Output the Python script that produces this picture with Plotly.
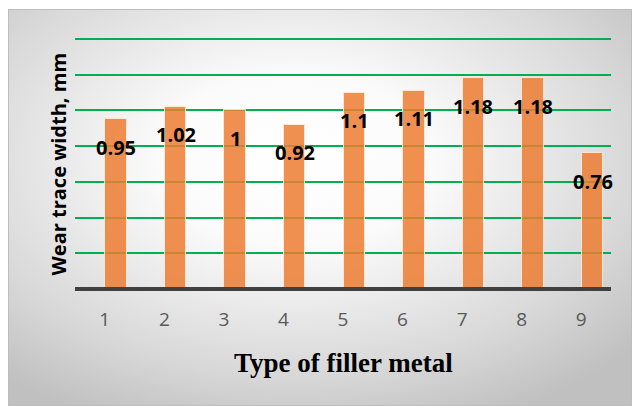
import base64
import plotly.graph_objects as go

# Wear trace width per filler metal type
filler_types = [1, 2, 3, 4, 5, 6, 7, 8, 9]
tick_labels = ["1", "2", "3", "4", "5", "6", "7", "8", "9"]
wear_width = [0.95, 1.02, 1.00, 0.92, 1.10, 1.11, 1.18, 1.18, 0.76]

W, H = 632, 406
L, R, T, B = 75, 21, 34, 117
plot_w = W - L - R
plot_h = H - T - B
Y_MAX = 1.428  # a little headroom so the 1.4 gridline is kept

BAR_W = 0.36
BAR_OFF = 0.01


def px_to_paper_x(px):
    return (px - L) / plot_w


def px_to_paper_y(py):
    return (H - B - py) / plot_h


# Radial grey-to-white backdrop for the chart frame
svg = """<svg xmlns='http://www.w3.org/2000/svg' width='624' height='397' viewBox='0 0 624 397' preserveAspectRatio='none'>
<defs><radialGradient id='g' cx='0.46' cy='0.38' r='0.72' fx='0.46' fy='0.38'>
<stop offset='0' stop-color='#ffffff'/>
<stop offset='0.30' stop-color='#fbfbfb'/>
<stop offset='0.75' stop-color='#d8d8d8'/>
<stop offset='1' stop-color='#c0c0c0'/>
</radialGradient></defs>
<rect x='0' y='0' width='624' height='397' fill='url(#g)'/>
<rect x='0.5' y='0.5' width='623' height='396' fill='none' stroke='#bdbdbd' stroke-width='1'/>
</svg>"""
bg_uri = "data:image/svg+xml;base64," + base64.b64encode(svg.encode()).decode()

fig = go.Figure()
fig.add_trace(go.Bar(
    x=filler_types,
    y=wear_width,
    width=BAR_W,
    offset=BAR_OFF,
    marker=dict(color="rgba(237,125,49,0.85)",
                line=dict(color="rgba(255,236,222,0.85)", width=1)),
    hoverinfo="skip",
))

annotations = []
for xv, yv in zip(filler_types, wear_width):
    annotations.append(dict(
        x=xv + BAR_OFF + BAR_W / 2, y=yv, xref="x", yref="y",
        text=f"{yv:g}", showarrow=False, yshift=-28,
        xanchor="center", yanchor="middle",
        font=dict(family="Open Sans", size=20, color="#000000", weight="bold"),
    ))

annotations.append(dict(
    x=0.5, y=px_to_paper_y(363), xref="paper", yref="paper",
    text="<b>Type of filler metal</b>", showarrow=False,
    xanchor="center", yanchor="middle",
    font=dict(family="Liberation Serif", size=27, color="#000000"),
))
annotations.append(dict(
    x=px_to_paper_x(58), y=px_to_paper_y(164.5), xref="paper", yref="paper",
    text="<b>Wear trace width, mm</b>", showarrow=False, textangle=-90,
    xanchor="center", yanchor="middle",
    font=dict(family="Open Sans", size=20, color="#000000"),
))

fig.update_layout(
    width=W, height=H,
    margin=dict(l=L, r=R, t=T, b=B, pad=0),
    paper_bgcolor="#ffffff",
    plot_bgcolor="rgba(0,0,0,0)",
    showlegend=False,
    bargap=0,
    annotations=annotations,
    images=[dict(
        source=bg_uri, xref="paper", yref="paper",
        x=px_to_paper_x(8), y=px_to_paper_y(9),
        sizex=px_to_paper_x(632) - px_to_paper_x(8),
        sizey=px_to_paper_y(9) - px_to_paper_y(406),
        xanchor="left", yanchor="top", sizing="stretch", layer="below",
    )],
    shapes=[dict(
        type="line", xref="paper", yref="paper", x0=0, x1=1, y0=0, y1=0,
        line=dict(color="#404040", width=4), layer="above",
    )],
)

fig.update_xaxes(
    range=[0.5, 9.5], tickmode="array", tickvals=filler_types, ticktext=tick_labels,
    showgrid=False, zeroline=False, showline=False, ticks="",
    ticklabelstandoff=17,
    tickfont=dict(family="Open Sans", size=19, color="#595959"),
)
fig.update_yaxes(
    range=[0, Y_MAX], dtick=0.2, showticklabels=False, ticks="",
    showgrid=True, gridcolor="#00B050", gridwidth=2,
    zeroline=False, showline=False,
)

fig.write_html("out.html")
